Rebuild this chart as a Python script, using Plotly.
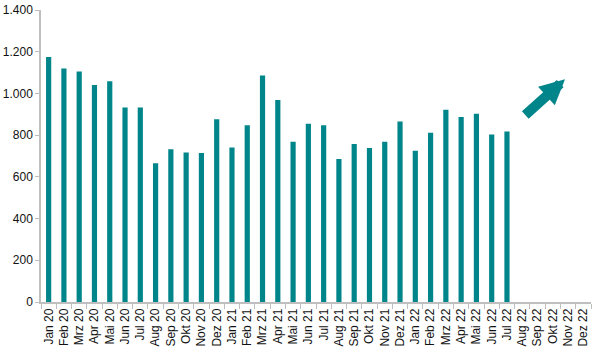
import plotly.graph_objects as go

months = ["Jan", "Feb", "Mrz", "Apr", "Mai", "Jun", "Jul", "Aug", "Sep", "Okt", "Nov", "Dez"]
categories = [f"{m} {y}" for y in ("20", "21", "22") for m in months]

values = [1175, 1120, 1105, 1040, 1058, 933, 932, 665, 732, 717, 714, 876,
          741, 848, 1086, 969, 768, 855, 848, 686, 758, 738, 768, 866,
          725, 811, 922, 887, 902, 803, 818]

bar_color = "#00868A"
axis_color = "#BFBFBF"

fig = go.Figure()
fig.add_trace(go.Bar(
    x=categories[:len(values)],
    y=values,
    marker=dict(color=bar_color, line=dict(width=0)),
))

# trend arrow (positions in category index / value units)
fig.add_annotation(
    x=33.8, y=1068, ax=31.1, ay=890,
    xref="x", yref="y", axref="x", ayref="y",
    text="", showarrow=True,
    arrowhead=2, arrowsize=0.5, arrowwidth=10, arrowcolor=bar_color,
)

fig.update_layout(
    width=600, height=348,
    margin=dict(l=41, r=9, t=10, b=46),
    paper_bgcolor="white", plot_bgcolor="white",
    bargap=0.66,
    showlegend=False,
    separators=",.",
    font=dict(family="Liberation Sans, Arial, sans-serif", size=12, color="#111111"),
)
fig.update_xaxes(
    type="category",
    categoryorder="array", categoryarray=categories,
    range=[-0.5, len(categories) - 0.5],
    tickangle=-90, automargin=False,
    showline=True, linecolor=axis_color, linewidth=1.5,
    ticks="outside", tickson="boundaries", ticklen=5, tickcolor=axis_color,
    showgrid=False,
    tickfont=dict(size=12),
)
fig.update_yaxes(
    range=[0, 1400], dtick=200, tickformat=",d", automargin=False,
    showline=True, linecolor=axis_color, linewidth=1.5,
    ticks="outside", ticklen=4, tickcolor=axis_color,
    showgrid=False, zeroline=False,
    tickfont=dict(size=12),
)

fig.write_html("out.html")
